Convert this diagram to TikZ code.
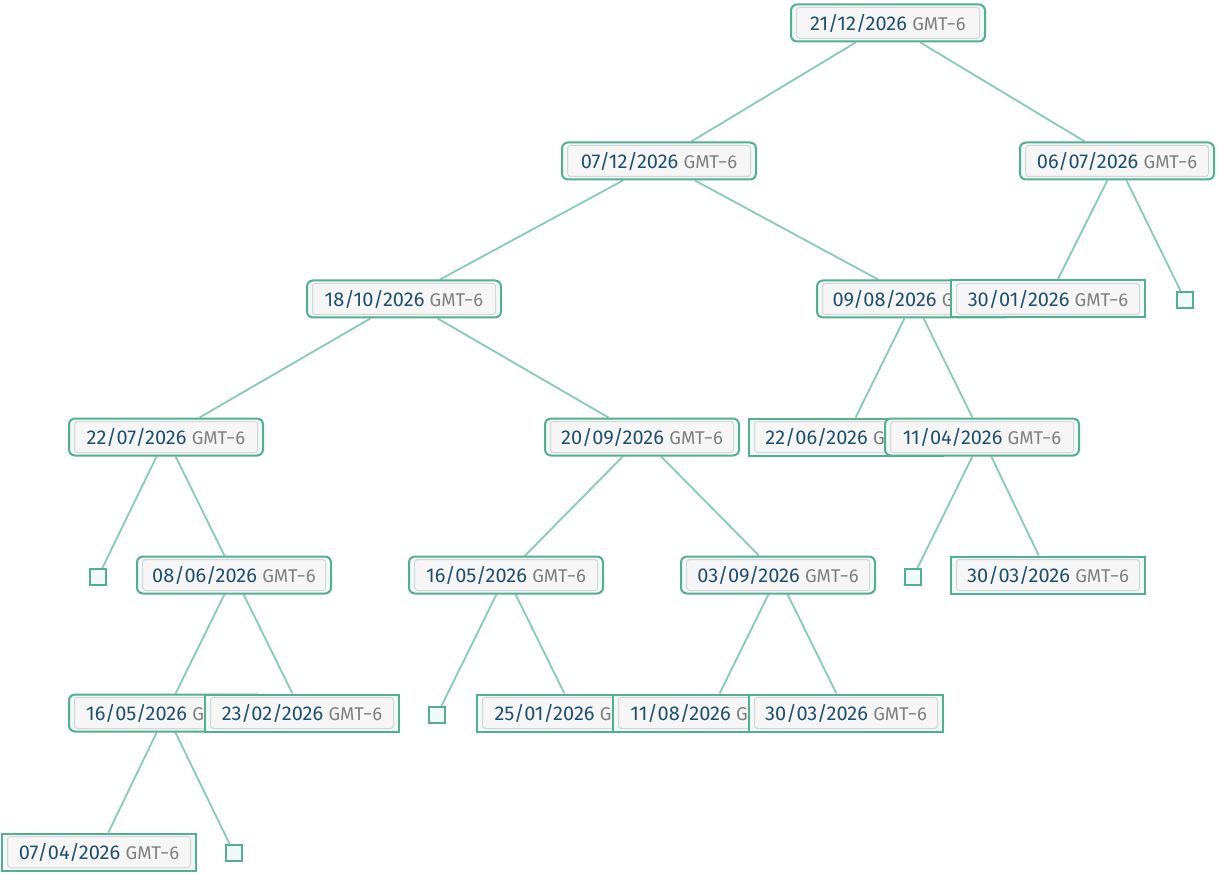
\documentclass[tikz,border=0pt]{standalone}
\usepackage{fontspec}
\setmainfont{Fira Sans}
\usepackage{tikz}
\usepackage{xcolor}
\usetikzlibrary{
    positioning,
    backgrounds
}
\definecolor{treegreen}{HTML}{52B08F}
\definecolor{edgegreen}{HTML}{86CCB4}
\definecolor{mintfill}{HTML}{F0FAF6}
\definecolor{datecol}{HTML}{1E5170}
\definecolor{gmtcol}{HTML}{808080}
\definecolor{inboxfill}{HTML}{F6F6F6}
\definecolor{inboxline}{HTML}{D6D6D6}

\newcommand{\datenode}[4]{%
    \node[#1] (#2) at (#3) {};
    \node[inbox] at (#2) {\fontsize{20}{22}\selectfont\textcolor{datecol}{#4}\ {\fontsize{18.5}{20}\selectfont\textcolor{gmtcol}{GMT−6}}};
}

\begin{document}
\begin{tikzpicture}[x=1pt, y=-1pt,
    inner/.style={draw=treegreen, fill=mintfill, line width=2pt, rounded corners=6pt,
        minimum width=194pt, minimum height=37pt, inner sep=0pt},
    leaf/.style={draw=treegreen, fill=mintfill, line width=2pt,
        minimum width=194pt, minimum height=37pt, inner sep=0pt},
    inbox/.style={draw=inboxline, fill=inboxfill, line width=1pt, rounded corners=3pt,
        minimum width=183pt, minimum height=31pt, inner sep=0pt},
    nil/.style={draw=treegreen, fill=mintfill, line width=1.8pt,
        minimum size=16pt, inner sep=0pt},
    link/.style={draw=edgegreen, line width=1.8pt}]
    \useasboundingbox (0, 0) rectangle (1218, 874);
    % level 0
    \datenode{inner}{d2112}{888, 23}{21/12/2026}
    % level 1
    \datenode{inner}{d0712}{659, 161}{07/12/2026}
    \datenode{inner}{d0607}{1117, 161}{06/07/2026}
    % level 2
    \datenode{inner}{d1810}{404, 299}{18/10/2026}
    \datenode{inner}{d0908}{914, 299}{09/08/2026}
    \datenode{leaf}{d3001}{1048, 299}{30/01/2026}
    \node[nil] (nilA) at (1185, 300) {};
    % level 3
    \datenode{inner}{d2207}{166, 437}{22/07/2026}
    \datenode{inner}{d2009}{642, 437}{20/09/2026}
    \datenode{leaf}{d2206}{846, 437}{22/06/2026}
    \datenode{inner}{d1104}{982, 437}{11/04/2026}
    % level 4
    \node[nil] (nilB) at (98, 577) {};
    \datenode{inner}{d0806}{234, 575}{08/06/2026}
    \datenode{inner}{d1605a}{506, 575}{16/05/2026}
    \datenode{inner}{d0309}{778, 575}{03/09/2026}
    \node[nil] (nilC) at (913, 577) {};
    \datenode{leaf}{d3003a}{1048, 575}{30/03/2026}
    % level 5
    \datenode{inner}{d1605b}{166, 713}{16/05/2026}
    \datenode{leaf}{d2302}{302, 713}{23/02/2026}
    \node[nil] (nilD) at (437, 715) {};
    \datenode{leaf}{d2501}{574, 713}{25/01/2026}
    \datenode{leaf}{d1108}{710, 713}{11/08/2026}
    \datenode{leaf}{d3003b}{846, 713}{30/03/2026}
    % level 6
    \datenode{leaf}{d0704}{99, 852}{07/04/2026}
    \node[nil] (nilE) at (234, 853) {};
    % edges
    \begin{scope}[on background layer]
        \draw[link] (d2112) -- (d0712);
        \draw[link] (d2112) -- (d0607);
        \draw[link] (d0712) -- (d1810);
        \draw[link] (d0712) -- (d0908);
        \draw[link] (d0607) -- (d3001);
        \draw[link] (d0607) -- (nilA);
        \draw[link] (d1810) -- (d2207);
        \draw[link] (d1810) -- (d2009);
        \draw[link] (d0908) -- (d2206);
        \draw[link] (d0908) -- (d1104);
        \draw[link] (d2207) -- (nilB);
        \draw[link] (d2207) -- (d0806);
        \draw[link] (d2009) -- (d1605a);
        \draw[link] (d2009) -- (d0309);
        \draw[link] (d1104) -- (nilC);
        \draw[link] (d1104) -- (d3003a);
        \draw[link] (d0806) -- (d1605b);
        \draw[link] (d0806) -- (d2302);
        \draw[link] (d1605a) -- (nilD);
        \draw[link] (d1605a) -- (d2501);
        \draw[link] (d0309) -- (d1108);
        \draw[link] (d0309) -- (d3003b);
        \draw[link] (d1605b) -- (d0704);
        \draw[link] (d1605b) -- (nilE);
    \end{scope}
\end{tikzpicture}
\end{document}
